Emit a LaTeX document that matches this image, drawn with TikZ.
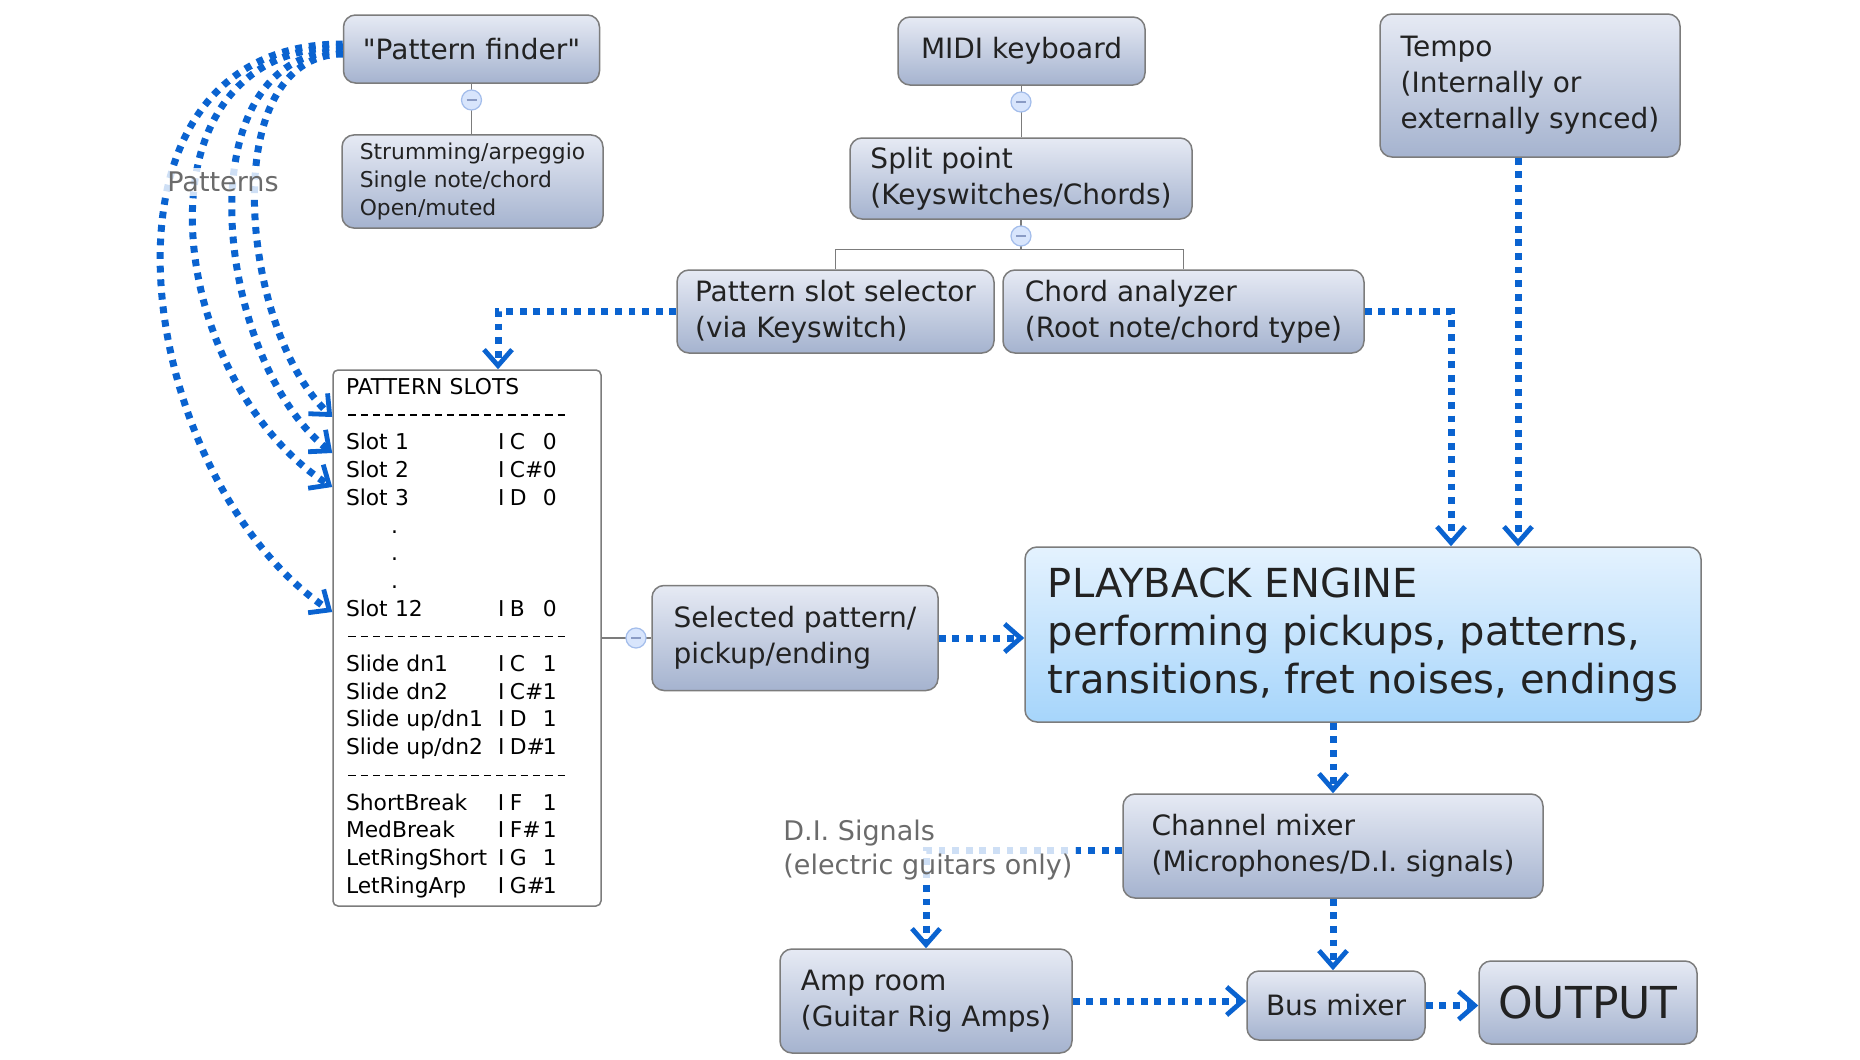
\documentclass[tikz,border=0pt]{standalone}
\usepackage{fontspec}
\setmainfont{DejaVu Sans}
\newfontfamily\quotefont{DejaVu Sans}
\usetikzlibrary{positioning,arrows.meta,calc}
\definecolor{flowblue}{HTML}{0A63D0}
\definecolor{boxtop}{HTML}{E6EAF4}
\definecolor{boxbot}{HTML}{A5B3CF}
\definecolor{engtop}{HTML}{E4F2FE}
\definecolor{engbot}{HTML}{A6D5FB}
\definecolor{edgegrey}{HTML}{7C7C7C}
\definecolor{inkdark}{HTML}{222222}
\definecolor{notegrey}{HTML}{6B6B6B}
\definecolor{knobfill}{HTML}{D8E5FC}
\definecolor{knobedge}{HTML}{A3BDEB}
\definecolor{knobmark}{HTML}{8A9BC4}
\newcommand{\slotrow}[3]{\makebox[76pt][l]{#1}I\hspace{2.75pt}\makebox[16.5pt][l]{#2}#3}
\newcommand{\dashrow}{\leavevmode\hbox to 110.7pt{\xleaders\hbox to 6.15pt{\hss\rule[0.3em]{3.7pt}{0.6pt}\hss}\hfil}}
\newcommand{\sq}{{\quotefont\symbol{34}}}
\tikzset{
  blk/.style={rectangle, rounded corners=6pt, draw=edgegrey, line width=0.75pt,
              top color=boxtop, bottom color=boxbot, text=inkdark, align=left,
              inner xsep=7pt, inner ysep=4pt, font=\fontsize{14}{18}\selectfont},
  eng/.style={blk, top color=engtop, bottom color=engbot, inner xsep=10pt,
              font=\fontsize{20}{24}\selectfont},
  slotbox/.style={rectangle, rounded corners=2.5pt, draw=edgegrey, line width=0.75pt,
                  fill=white, text=black, align=left, inner xsep=6.5pt,
                  font=\fontsize{10.9}{13.85}\selectfont},
  knob/.style={circle, minimum size=10pt, inner sep=0pt, draw=knobedge, fill=knobfill,
               line width=0.6pt,
               path picture={\draw[knobmark, line width=0.8pt]
                 ([xshift=-2.5pt]path picture bounding box.center) --
                 ([xshift=2.5pt]path picture bounding box.center);}},
  tree/.style={draw=edgegrey, line width=0.75pt},
  flow/.style={draw=flowblue, line width=3.5pt, dash pattern=on 3.4pt off 3.4pt,
               -{Straight Barb[length=8pt,width=14pt,line width=2.4pt]}},
  note/.style={text=notegrey, align=left, font=\fontsize{13.5}{17}\selectfont,
               fill=white, fill opacity=0.8, text opacity=1, inner sep=2pt},
}
\begin{document}
\begin{tikzpicture}[x=0.5pt, y=-0.5pt]
  \fill[white] (0,0) rectangle (1860,1060);
  \useasboundingbox (0,0) rectangle (1860,1060);

  % pattern side
  \node[blk, minimum width=128pt, minimum height=34pt] (finder) at (471.5,49) {\sq Pattern finder\sq};
  \node[blk, font=\fontsize{10.9}{14}\selectfont, inner xsep=6.5pt, minimum width=130.5pt,
        minimum height=45.5pt] (fsub) at (472.5,181.5) {Strumming/arpeggio\\Single note/chord\\Open/muted};
  \node[slotbox, text width=121pt, minimum height=268pt] (slots) at (467,638) {%
    PATTERN SLOTS\\
    \dashrow\\
    \slotrow{Slot 1}{C}{0}\\
    \slotrow{Slot 2}{C\#}{0}\\
    \slotrow{Slot 3}{D}{0}\\
    \hspace*{22.5pt}.\\
    \hspace*{22.5pt}.\\
    \hspace*{22.5pt}.\\
    \slotrow{Slot 12}{B}{0}\\
    \dashrow\\
    \slotrow{Slide dn1}{C}{1}\\
    \slotrow{Slide dn2}{C\#}{1}\\
    \slotrow{Slide up/dn1}{D}{1}\\
    \slotrow{Slide up/dn2}{D\#}{1}\\
    \dashrow\\
    \slotrow{ShortBreak}{F}{1}\\
    \slotrow{MedBreak}{F\#}{1}\\
    \slotrow{LetRingShort}{G}{1}\\
    \slotrow{LetRingArp}{G\#}{1}};

  % keyboard side
  \node[blk, minimum width=123.5pt, minimum height=34pt] (midi) at (1021.5,51) {MIDI keyboard};
  \node[blk, minimum width=171pt, minimum height=40.5pt] (split) at (1021,178.5) {Split point\\(Keyswitches/Chords)};
  \node[blk, minimum width=158.5pt, minimum height=41.5pt] (selector) at (835.5,311.5) {Pattern slot selector\\(via Keyswitch)};
  \node[blk, minimum width=180.5pt, minimum height=41.5pt] (chord) at (1183.5,311.5) {Chord analyzer\\(Root note/chord type)};
  \node[blk, inner xsep=10pt, minimum width=150pt, minimum height=71.5pt] (tempo) at (1530,85.5) {Tempo\\(Internally or\\externally synced)};

  % engine and mixing
  \node[eng, minimum width=338pt, minimum height=87.5pt] (engine) at (1363,634.5)
    {PLAYBACK ENGINE\\performing pickups, patterns,\\transitions, fret noises, endings};
  \node[blk, minimum width=143pt, minimum height=52.5pt] (sel) at (795,638) {Selected pattern/\\pickup/ending};
  \node[blk, minimum width=210pt, minimum height=52pt] (chan) at (1333,846) {Channel mixer\\(Microphones/D.I. signals)};
  \node[blk, minimum width=146pt, minimum height=52pt] (amp) at (926,1001) {Amp room\\(Guitar Rig Amps)};
  \node[blk, minimum width=89pt, minimum height=34.5pt] (bus) at (1336,1005.5) {Bus mixer};
  \node[blk, font=\fontsize{22}{26}\selectfont, minimum width=109pt, minimum height=41.5pt] (out) at (1588,1002.5) {OUTPUT};

  % tree lines
  \draw[tree] (finder.south) -- (finder.south |- fsub.north);
  \draw[tree] (midi.south) -- (midi.south |- split.north);
  \draw[tree] (selector.north) -- ++(0,-20) coordinate (bar) -| (chord.north);
  \draw[tree] (split.south) -- (split.south |- bar);
  \draw[tree] (slots.east) -- (sel.west);
  \node[knob] (kf) at (finder.south |- 0,100) {};
  \node[knob] (km) at (1021,102) {};
  \node[knob] (ks) at (1021,236) {};
  \node[knob] (kp) at (636,638) {};

  % pattern curves
  \draw[flow] ([yshift=2.5pt]finder.west) .. controls (70,44) and (135,480) .. (slots.west |- 0,612);
  \draw[flow] ([yshift=1pt]finder.west) .. controls (125,48) and (165,380) .. (slots.west |- 0,487);
  \draw[flow] ([yshift=-1pt]finder.west) .. controls (180,52) and (215,360) .. (slots.west |- 0,453);
  \draw[flow] ([yshift=-2.5pt]finder.west) .. controls (215,55) and (240,330) .. (slots.west |- 0,417);

  % signal flow
  \draw[flow] (selector.west) -| ([xshift=15.5pt]slots.north);
  \draw[flow] (chord.east) -| ([xshift=44pt]engine.north);
  \draw[flow] ([xshift=-6pt]tempo.south) -- ([xshift=-6pt]tempo.south |- engine.north);
  \draw[flow] (sel.east) -- (sel.east -| engine.west);
  \draw[flow] (chan.north |- engine.south) -- (chan.north);
  \draw[flow] (chan.south) -- (chan.south |- bus.north);
  \draw[flow] ([yshift=-2pt]chan.west) -| (amp.north);
  \draw[flow] (amp.east) -- (amp.east -| bus.west);
  \draw[flow] (bus.east) -- (bus.east -| out.west);

  % labels
  \node[note, anchor=west] (dilbl) at (779,850) {D.I. Signals\\(electric guitars only)};
  \node[note] (patlbl) at (223,182) {Patterns};
\end{tikzpicture}
\end{document}
